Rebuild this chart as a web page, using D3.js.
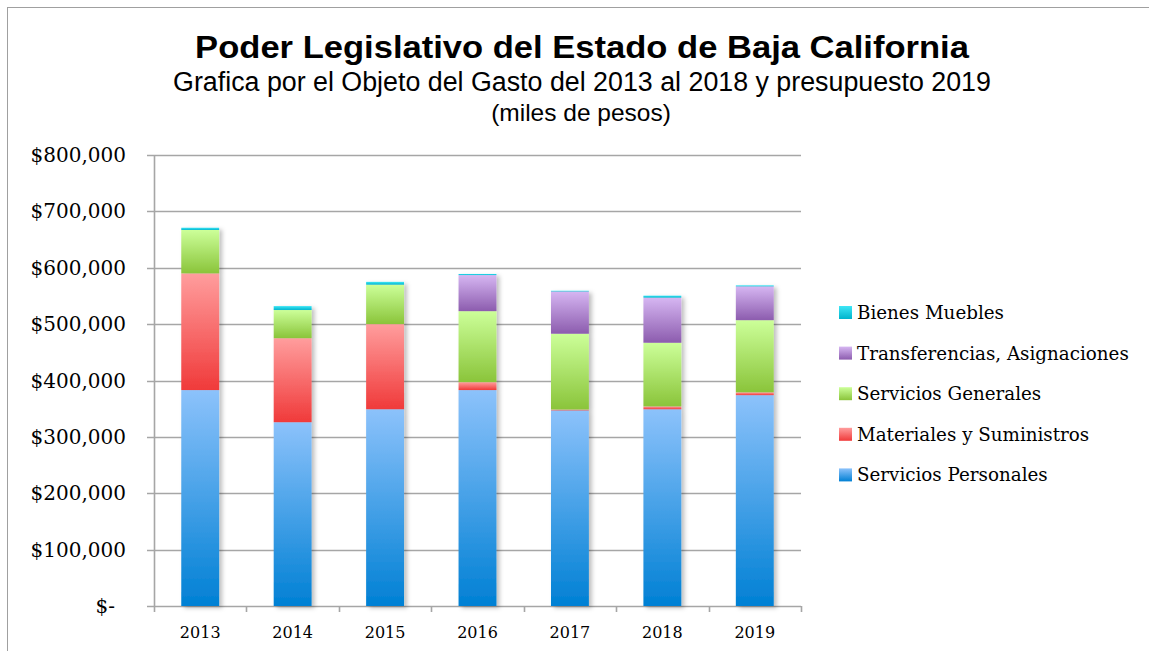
<!DOCTYPE html>
<html>
<head>
<meta charset="utf-8">
<script src="https://cdn.jsdelivr.net/npm/d3@7"></script>
<style>
  body { margin: 0; background: #fff; }
  svg { display: block; }
</style>
</head>
<body>
<svg id="chart" width="1149" height="651"></svg>
<script>
// values in pesos (thousands shown on axis)
var years = ["2013", "2014", "2015", "2016", "2017", "2018", "2019"]
var personales     = [383000, 326000, 349000, 383000, 347000, 349000, 374000]
var materiales     = [207000, 149000, 151000, 14000, 1500, 5000, 5000]
var generales      = [77000, 50000, 70000, 126000, 134500, 113000, 128000]
var transferencias = [0, 0, 0, 64000, 75000, 80000, 60000]
var bienes         = [4000, 7000, 5000, 2000, 1200, 3500, 1800]
var yTicks = [0, 100000, 200000, 300000, 400000, 500000, 600000, 700000, 800000]

var series = [
  { key: "personales", label: "Servicios Personales", values: personales, top: "#8cc2fb", bottom: "#0080d4" },
  { key: "materiales", label: "Materiales y Suministros", values: materiales, top: "#ff9d9d", bottom: "#f03a3a" },
  { key: "generales", label: "Servicios Generales", values: generales, top: "#ccff99", bottom: "#8ac43a" },
  { key: "transferencias", label: "Transferencias, Asignaciones", values: transferencias, top: "#d6b6f2", bottom: "#8c5cae" },
  { key: "bienes", label: "Bienes Muebles", values: bienes, top: "#3ee6f6", bottom: "#00b4cc" }
]

var table = years.map(function(y, i) {
  var row = { year: y }
  series.forEach(function(s) { row[s.key] = s.values[i] })
  return row
})

var svg = d3.select("#chart")
var margin = { left: 154, right: 348, top: 155, bottom: 45 }
var width = 1149 - margin.left - margin.right
var height = 651 - margin.top - margin.bottom

// frame
svg.append("rect")
  .attr("x", 7.5).attr("y", 7.5)
  .attr("width", 1200).attr("height", 700)
  .attr("fill", "none").attr("stroke", "#a0a0a0").attr("stroke-width", 1)

var defs = svg.append("defs")
series.forEach(function(s) {
  var g = defs.append("linearGradient")
    .attr("id", "grad-" + s.key)
    .attr("x1", 0).attr("y1", 0).attr("x2", 0).attr("y2", 1)
  g.append("stop").attr("offset", "0%").attr("stop-color", s.top)
  g.append("stop").attr("offset", "100%").attr("stop-color", s.bottom)
})
var shadow = defs.append("filter").attr("id", "shadow")
  .attr("x", "-20%").attr("y", "-5%").attr("width", "150%").attr("height", "115%")
shadow.append("feDropShadow")
  .attr("dx", 3).attr("dy", 2).attr("stdDeviation", 2)
  .attr("flood-color", "#000").attr("flood-opacity", 0.25)

// titles
svg.append("text")
  .attr("transform", "translate(582,57.5) scale(1.08,1)")
  .attr("text-anchor", "middle")
  .style("font-family", "'Liberation Sans', Arial, sans-serif")
  .style("font-weight", "bold").style("font-size", "32px")
  .text("Poder Legislativo del Estado de Baja California")
svg.append("text")
  .attr("x", 582).attr("y", 90.5)
  .attr("text-anchor", "middle")
  .style("font-family", "'Liberation Sans', Arial, sans-serif")
  .style("font-size", "26.8px")
  .text("Grafica por el Objeto del Gasto del 2013 al 2018 y presupuesto 2019")
svg.append("text")
  .attr("x", 581).attr("y", 121)
  .attr("text-anchor", "middle")
  .style("font-family", "'Liberation Sans', Arial, sans-serif")
  .style("font-size", "24.5px")
  .text("(miles de pesos)")

var g = svg.append("g").attr("transform", "translate(" + margin.left + "," + margin.top + ")")

var x = d3.scaleBand().domain(years).range([0, width]).paddingInner(0.59).paddingOuter(0.295)
var y = d3.scaleLinear().domain([0, 800000]).range([height, 0])

// gridlines
g.selectAll(".grid")
  .data(yTicks)
  .enter().append("line")
  .attr("class", "grid")
  .attr("x1", -7).attr("x2", width)
  .attr("y1", function(d) { return Math.round(y(d)) + 0.5 })
  .attr("y2", function(d) { return Math.round(y(d)) + 0.5 })
  .attr("stroke", "#a6a6a6").attr("stroke-width", 1.6)

// y labels
g.selectAll(".ylab")
  .data(yTicks)
  .enter().append("text")
  .attr("class", "ylab")
  .attr("x", function(d) { return d === 0 ? -39 : -28 })
  .attr("y", function(d) { return y(d) + 7 })
  .attr("text-anchor", "end")
  .style("font-family", "'DejaVu Serif', serif")
  .style("font-size", "20px")
  .text(function(d) { return d === 0 ? "$-" : "$" + d3.format(",")(d) })

// axes lines
g.append("line")
  .attr("x1", 0.5).attr("x2", 0.5).attr("y1", 0).attr("y2", height)
  .attr("stroke", "#a6a6a6").attr("stroke-width", 1.6)

var xTickPos = years.map(function(d, i) { return i * width / years.length }).concat([width])
g.selectAll(".xtick")
  .data(xTickPos)
  .enter().append("line")
  .attr("class", "xtick")
  .attr("x1", function(d) { return Math.round(d) + 0.5 })
  .attr("x2", function(d) { return Math.round(d) + 0.5 })
  .attr("y1", height).attr("y2", height + 6)
  .attr("stroke", "#a6a6a6").attr("stroke-width", 1.6)

// x labels
g.selectAll(".xlab")
  .data(years)
  .enter().append("text")
  .attr("class", "xlab")
  .attr("x", function(d) { return x(d) + x.bandwidth() / 2 })
  .attr("y", height + 32)
  .attr("text-anchor", "middle")
  .style("font-family", "'DejaVu Serif', serif")
  .style("font-size", "16px")
  .text(function(d) { return d })

// stacked bars
var stack = d3.stack().keys(series.map(function(s) { return s.key }))
var layers = stack(table)

var bars = g.append("g").attr("filter", "url(#shadow)")
bars.selectAll(".layer")
  .data(layers)
  .enter().append("g")
  .attr("class", "layer")
  .attr("fill", function(d) { return "url(#grad-" + d.key + ")" })
  .selectAll("rect")
  .data(function(d) { return d.filter(function(p) { return p[1] - p[0] > 0 }) })
  .enter().append("rect")
  .attr("x", function(d) { return x(d.data.year) })
  .attr("width", x.bandwidth())
  .attr("y", function(d) { return y(d[1]) })
  .attr("height", function(d) { return y(d[0]) - y(d[1]) })

// legend
var legend = svg.append("g").attr("transform", "translate(839,312)")
var legendItems = series.slice().reverse()
var item = legend.selectAll(".leg")
  .data(legendItems)
  .enter().append("g")
  .attr("class", "leg")
  .attr("transform", function(d, i) { return "translate(0," + (i * 40.6) + ")" })
item.append("rect")
  .attr("x", 0).attr("y", -6).attr("width", 13).attr("height", 13)
  .attr("fill", function(d) { return "url(#grad-" + d.key + ")" })
item.append("text")
  .attr("x", 18).attr("y", 7)
  .style("font-family", "'DejaVu Serif', serif")
  .style("font-size", "18.3px")
  .text(function(d) { return d.label })
</script>
</body>
</html>
